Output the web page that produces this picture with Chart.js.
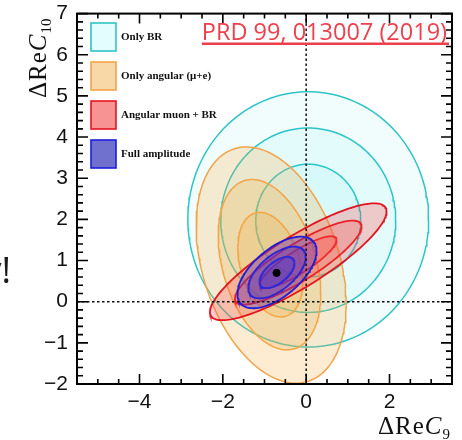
<!DOCTYPE html>
<html>
<head>
<meta charset="utf-8">
<script src="https://cdn.jsdelivr.net/npm/chart.js@4.4.1/dist/chart.umd.min.js"></script>
<style>
  html, body { margin: 0; padding: 0; background: #fff; }
  #c { display: block; }
</style>
</head>
<body>
<canvas id="c" width="462" height="440"></canvas>
<script>
// axis ranges and tick labels
const xRange = [-5.5, 3.5];
const yRange = [-2, 7];
const xTicks = [-4, -2, 0, 2];
const yTicks = [-2, -1, 0, 1, 2, 3, 4, 5, 6, 7];

const seriesNames = ['Only BR', 'Only angular (\u03bc+e)', 'Angular muon + BR', 'Full amplitude'];

// contours, outer to inner: [centre x, centre y, half width, half height, correlation]
const onlyBR = [[0.05, 2.00, 2.89, 3.10, 0.0], [0.05, 1.98, 2.10, 2.24, 0.0], [0.05, 1.97, 1.26, 1.37, 0.0]];
const onlyAngular = [[-0.84, 0.89, 1.80, 2.87, -0.33], [-0.88, 0.90, 1.23, 2.07, -0.34], [-0.86, 0.90, 0.78, 1.27, -0.32]];
const angularMuonBR = [[-0.19, 0.97, 2.12, 1.42, 0.86], [-0.19, 0.95, 1.52, 1.02, 0.86], [-0.19, 0.96, 0.92, 0.63, 0.86]];
const fullAmplitude = [[-0.70, 0.71, 0.95, 0.87, 0.60], [-0.70, 0.71, 0.69, 0.63, 0.60], [-0.70, 0.71, 0.42, 0.38, 0.60]];
const bestFit = [-0.71, 0.70];

const lineColors = ['#2ec4c6', '#f2a34a', '#e3141f', '#1d1ddc'];
const fillColors = ['rgba(0,215,225,0.055)', 'rgba(245,168,60,0.23)', 'rgba(255,70,70,0.27)', 'rgba(60,50,215,0.32)'];
const legendFills = ['#e3fcfd', '#f9d8a8', '#f79393', '#7070cf'];

function outline(e) {
  const [cx, cy, sx, sy, rho] = e;
  const k = Math.sqrt(1 - rho * rho);
  const pts = [];
  for (let i = 0; i <= 180; i++) {
    const t = i / 180 * 2 * Math.PI;
    pts.push({ x: cx + sx * Math.cos(t), y: cy + sy * (rho * Math.cos(t) + k * Math.sin(t)) });
  }
  return pts;
}

function contourSets(contours, s) {
  return contours.map((e, i) => ({
    label: seriesNames[s] + ' ' + (3 - i) + '\u03c3',
    data: outline(e),
    showLine: true,
    fill: 'shape',
    backgroundColor: fillColors[s],
    borderColor: lineColors[s],
    borderWidth: s > 1 ? 1.8 : 1.5,
    pointRadius: 0,
    tension: 0,
    order: 10 - s * 2
  }));
}

const datasets = [
  ...contourSets(onlyBR, 0),
  ...contourSets(onlyAngular, 1),
  ...contourSets(angularMuonBR, 2),
  ...contourSets(fullAmplitude, 3),
  { label: 'best fit', data: [{ x: bestFit[0], y: bestFit[1] }], pointRadius: 3.6,
    backgroundColor: '#000', borderColor: '#000', order: 0 }
];

function minus(v) { return v < 0 ? '\u2212' + Math.abs(v) : String(v); }

// frame, inward ticks and the dotted zero lines
const framePlugin = {
  id: 'frame',
  afterDatasetsDraw(chart) {
    const { ctx, chartArea: a, scales: { x, y } } = chart;
    ctx.save();
    ctx.strokeStyle = '#111';
    ctx.setLineDash([2.5, 2.5]);
    ctx.lineWidth = 1.5;
    ctx.beginPath();
    ctx.moveTo(x.getPixelForValue(0), a.top);
    ctx.lineTo(x.getPixelForValue(0), a.bottom);
    ctx.moveTo(a.left, y.getPixelForValue(0));
    ctx.lineTo(a.right, y.getPixelForValue(0));
    ctx.stroke();
    ctx.setLineDash([]);

    ctx.lineWidth = 2;
    ctx.strokeStyle = '#000';
    ctx.strokeRect(a.left, a.top, a.right - a.left, a.bottom - a.top);
    ctx.lineWidth = 1.6;
    ctx.beginPath();
    for (let v = xRange[0]; v <= xRange[1] + 1e-9; v += 0.5) {
      const px = x.getPixelForValue(v);
      const len = xTicks.includes(Math.round(v * 10) / 10) ? 10 : 5;
      ctx.moveTo(px, a.bottom); ctx.lineTo(px, a.bottom - len);
      ctx.moveTo(px, a.top); ctx.lineTo(px, a.top + len);
    }
    for (let v = yRange[0]; v <= yRange[1] + 1e-9; v += 0.2) {
      const py = y.getPixelForValue(v);
      const len = Math.abs(v - Math.round(v)) < 1e-6 ? 11 : 6;
      ctx.moveTo(a.left, py); ctx.lineTo(a.left + len, py);
      ctx.moveTo(a.right, py); ctx.lineTo(a.right - len, py);
    }
    ctx.stroke();
    ctx.restore();
  }
};

// draws pieces of text one after another: [text, font, dy]
function drawPieces(ctx, pieces, gap) {
  let x = 0;
  for (const [t, font, dy] of pieces) {
    ctx.font = font;
    ctx.fillText(t, x, dy);
    x += ctx.measureText(t).width + gap;
  }
}

const textPlugin = {
  id: 'texts',
  afterDraw(chart) {
    const { ctx } = chart;
    ctx.save();
    ctx.fillStyle = '#111';
    ctx.textBaseline = 'alphabetic';
    ctx.textAlign = 'left';

    const big = '25px "Liberation Serif"';
    const bigIt = 'italic 25px "Liberation Serif"';
    const sub = '15px "Liberation Serif"';

    // y axis title, reading upwards
    ctx.save();
    ctx.translate(46, 98);
    ctx.rotate(-Math.PI / 2);
    drawPieces(ctx, [['\u0394', big, 0], ['R', big, 0], ['e', big, 0], ['C', bigIt, 0], ['10', sub, 5]], 1);
    ctx.restore();

    // x axis title
    ctx.save();
    ctx.translate(378, 434);
    drawPieces(ctx, [['\u0394', big, 0], ['R', big, 0], ['e', big, 0], ['C', bigIt, 0], ['9', sub, 5]], 1);
    ctx.restore();

    // legend
    const boxX = 91, boxW = 25, boxH = 28, rows = [23, 62, 101, 140];
    ctx.font = 'bold 11px "Liberation Serif"';
    ctx.textBaseline = 'middle';
    seriesNames.forEach((name, i) => {
      ctx.fillStyle = legendFills[i];
      ctx.fillRect(boxX, rows[i], boxW, boxH);
      ctx.strokeStyle = lineColors[i];
      ctx.lineWidth = 1.6;
      ctx.strokeRect(boxX, rows[i], boxW, boxH);
      ctx.fillStyle = '#111';
      ctx.fillText(name, boxX + boxW + 5, rows[i] + boxH / 2 + 0.5);
    });

    // reference tag
    ctx.font = '23.5px "Open Sans"';
    ctx.textBaseline = 'alphabetic';
    ctx.textAlign = 'right';
    ctx.fillStyle = '#ee3f4d';
    const tag = 'PRD 99, 013007 (2019)';
    ctx.fillText(tag, 447, 40);
    const w = ctx.measureText(tag).width;
    ctx.fillRect(447 - w, 42.5, w + 2, 2.5);

    // slide text cut off at the left edge
    ctx.font = '36px "Open Sans"';
    ctx.fillStyle = '#1a1a1a';
    ctx.fillText('y!', 11, 283);
    ctx.restore();
  }
};

new Chart(document.getElementById('c'), {
  type: 'scatter',
  data: { datasets },
  options: {
    responsive: false,
    animation: false,
    layout: { padding: { top: 13, right: 10, left: 0, bottom: 0 } },
    plugins: { legend: { display: false }, tooltip: { enabled: false } },
    scales: {
      x: {
        type: 'linear', min: xRange[0], max: xRange[1],
        grid: { display: false }, border: { display: false },
        afterBuildTicks: s => { s.ticks = xTicks.map(v => ({ value: v })); },
        afterFit: s => { s.height = 56; },
        ticks: { color: '#111', padding: -2, font: { family: '"Liberation Sans"', size: 21 }, callback: minus, maxRotation: 0 }
      },
      y: {
        type: 'linear', min: yRange[0], max: yRange[1],
        grid: { display: false }, border: { display: false },
        afterBuildTicks: s => { s.ticks = yTicks.map(v => ({ value: v })); },
        afterFit: s => { s.width = 77; },
        ticks: { color: '#111', padding: 1, font: { family: '"Liberation Sans"', size: 21 }, callback: minus }
      }
    }
  },
  plugins: [framePlugin, textPlugin]
});
</script>
</body>
</html>
